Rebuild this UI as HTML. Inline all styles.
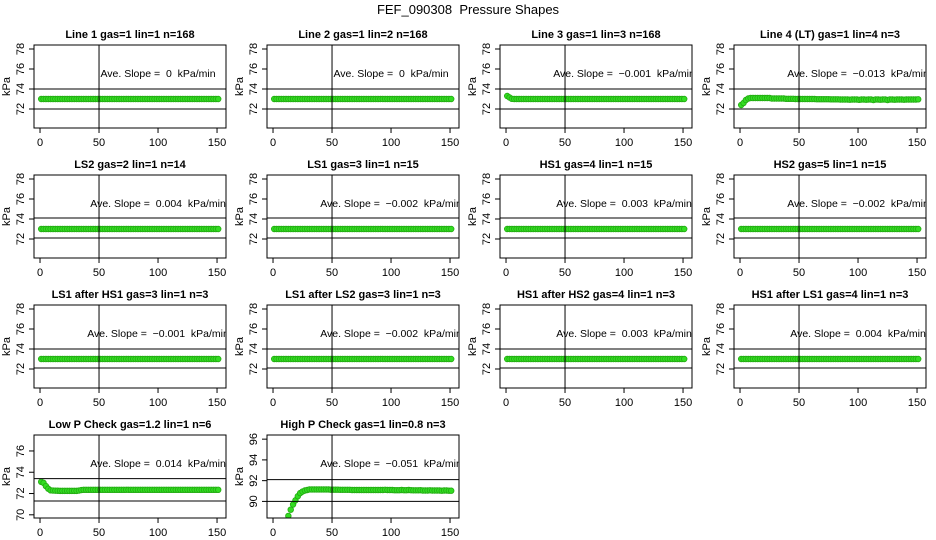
<!DOCTYPE html>
<html><head><meta charset="utf-8"><style>
html,body{margin:0;padding:0;background:#fff;overflow:hidden;width:936px;height:540px;}
svg{display:block;font-family:"Liberation Sans",sans-serif;}
text{white-space:pre;}
</style></head><body>
<svg id="c" width="936" height="540" viewBox="0 0 936 540">
<text x="468" y="14" text-anchor="middle" font-size="13">FEF_090308  Pressure Shapes</text>
</svg>
<script>
const times=[1,3,5,7,9,11,13,15,17,19,21,23,25,27,29,31,33,35,37,39,41,43,45,47,49,51,53,55,57,59,61,63,65,67,69,71,73,75,77,79,81,83,85,87,89,91,93,95,97,99,101,103,105,107,109,111,113,115,117,119,121,123,125,127,129,131,133,135,137,139,141,143,145,147,149,151];
const titles=["Line 1 gas=1 lin=1 n=168","Line 2 gas=1 lin=2 n=168","Line 3 gas=1 lin=3 n=168","Line 4 (LT) gas=1 lin=4 n=3","LS2 gas=2 lin=1 n=14","LS1 gas=3 lin=1 n=15","HS1 gas=4 lin=1 n=15","HS2 gas=5 lin=1 n=15","LS1 after HS1 gas=3 lin=1 n=3","LS1 after LS2 gas=3 lin=1 n=3","HS1 after HS2 gas=4 lin=1 n=3","HS1 after LS1 gas=4 lin=1 n=3","Low P Check gas=1.2 lin=1 n=6","High P Check gas=1 lin=0.8 n=3"];
const slopes=["0","0","\u22120.001","\u22120.013","0.004","\u22120.002","0.003","\u22120.002","\u22120.001","\u22120.002","0.003","0.004","0.014","\u22120.051"];
const yMin=[70.1,70.1,70.1,70.1,70.1,70.1,70.1,70.1,70.1,70.1,70.1,70.1,69.7,88.4];
const yMax=[78.4,78.4,78.4,78.4,78.4,78.4,78.4,78.4,78.4,78.4,78.4,78.4,77.5,96.4];
const yTicks=[[72,74,76,78],[72,74,76,78],[72,74,76,78],[72,74,76,78],[72,74,76,78],[72,74,76,78],[72,74,76,78],[72,74,76,78],[72,74,76,78],[72,74,76,78],[72,74,76,78],[72,74,76,78],[70,72,74,76],[90,92,94,96]];
const refLo=[72,72,72,72,72.1,72.1,72.1,72.1,72.1,72.1,72.1,72.1,71.3,90.0];
const refHi=[74,74,74,74,74.1,74.1,74.1,74.1,74.0,74.0,74.0,74.0,73.4,92.1];
const xTicks=[0,50,100,150];
const s1=[73,73,73,73,73,73,73,73,73,73,73,73,73,73,73,73,73,73,73,73,73,73,73,73,73,73,73,73,73,73,73,73,73,73,73,73,73,73,73,73,73,73,73,73,73,73,73,73,73,73,73,73,73,73,73,73,73,73,73,73,73,73,73,73,73,73,73,73,73,73,73,73,73,73,73,73];
const s2=s1.slice();
const s3=[73.3,73.15,73.02,73,73,73,73,73,73,73,73,73,73,73,73,73,73,73,73,73,73,73,73,73,73,73,73,73,73,73,73,73,73,73,73,73,73,73,73,73,73,73,73,73,73,73,73,73,73,73,73,73,73,73,73,73,73,73,73,73,73,73,73,73,73,73,73,73,73,73,73,73,73,73,73,73];
const s4=[72.4,72.6,72.9,73.05,73.1,73.1,73.1,73.1,73.1,73.1,73.1,73.1,73.1,73.05,73.05,73.05,73.05,73.05,73.05,73.02,73.02,73.02,73.02,73,73,73,73,73,73,73,73,73,72.98,72.98,72.98,72.98,72.98,72.98,72.97,72.97,72.97,72.97,72.95,72.95,72.95,72.95,72.93,72.95,72.95,72.95,72.92,72.95,72.95,72.93,72.95,72.95,72.9,72.95,72.95,72.93,72.95,72.95,72.9,72.95,72.95,72.93,72.95,72.95,72.95,72.93,72.95,72.95,72.95,72.95,72.95,72.97];
const s5=s1.slice(),s6=s1.slice(),s7=s1.slice(),s8=s1.slice(),s9=s1.slice(),s10=s1.slice(),s11=s1.slice(),s12=s1.slice();
const s13=[73.1,73.0,72.7,72.45,72.3,72.28,72.27,72.26,72.25,72.25,72.25,72.25,72.25,72.25,72.25,72.25,72.28,72.33,72.35,72.35,72.35,72.35,72.35,72.35,72.35,72.35,72.35,72.35,72.35,72.35,72.35,72.35,72.35,72.35,72.35,72.35,72.35,72.35,72.35,72.35,72.35,72.35,72.35,72.35,72.35,72.35,72.35,72.35,72.35,72.35,72.35,72.35,72.35,72.35,72.35,72.35,72.35,72.35,72.35,72.35,72.35,72.35,72.35,72.35,72.35,72.35,72.35,72.35,72.35,72.35,72.35,72.35,72.35,72.35,72.35,72.35];
const s14=[80,82,84,85.5,86.5,87.6,88.6,89.2,89.7,90.1,90.5,90.8,90.95,91.05,91.1,91.15,91.15,91.15,91.15,91.15,91.15,91.15,91.15,91.15,91.13,91.13,91.13,91.13,91.12,91.12,91.12,91.12,91.12,91.1,91.1,91.1,91.1,91.1,91.1,91.1,91.1,91.1,91.1,91.1,91.1,91.1,91.1,91.12,91.1,91.1,91.1,91.08,91.08,91.08,91.1,91.08,91.08,91.1,91.08,91.07,91.07,91.07,91.08,91.05,91.05,91.05,91.07,91.05,91.05,91.05,91.05,91.03,91.05,91.05,91.03,91.03];
const series=[s1,s2,s3,s4,s5,s6,s7,s8,s9,s10,s11,s12,s13,s14];
const NS="http://www.w3.org/2000/svg";
const svg=document.getElementById('c');
const colX=[34,267,500,734], rowY=[45,175,305,435], W=192, H=83;
const xMin=-5.1,xMax=157.6;
function mk(tag,attrs,parent){const e=document.createElementNS(NS,tag);for(const k in attrs)e.setAttribute(k,attrs[k]);(parent||svg).appendChild(e);return e;}
series.forEach((ys,i)=>{
  const bx=colX[i%4], by=rowY[Math.floor(i/4)];
  const g=mk('g',{});
  
  
  const sx=v=>bx+(v-xMin)/(xMax-xMin)*W;
  const sy=v=>by+H-(v-yMin[i])/(yMax[i]-yMin[i])*H;
  const cp=mk('clipPath',{id:'cp'+i},g);
  mk('rect',{x:bx,y:by,width:W,height:H},cp);
  const t=mk('text',{x:bx+W/2,y:by-7,'text-anchor':'middle','font-size':'11','font-weight':'bold'},g);
  t.textContent=titles[i];
  
  
  const lab=mk('text',{x:0,y:0,'text-anchor':'middle','font-size':'11',transform:`translate(${bx-24},${by+H/2}) rotate(-90)`},g);
  lab.textContent='kPa';
  
  
  yTicks[i].forEach(v=>{
    const y=sy(v);
    mk('line',{x1:bx-5,x2:bx,y1:y,y2:y,stroke:'#000'},g);
    const tl=mk('text',{x:0,y:0,'text-anchor':'middle','font-size':'11',transform:`translate(${bx-10},${y}) rotate(-90)`},g);
    tl.textContent=v;
    
    
  });
  xTicks.forEach(v=>{
    const x=sx(v);
    mk('line',{x1:x,x2:x,y1:by+H,y2:by+H+5,stroke:'#000'},g);
    const tl=mk('text',{x:x,y:by+H+18,'text-anchor':'middle','font-size':'11'},g);
    tl.textContent=v;
    
    
  });
  const pg=mk('g',{'clip-path':`url(#cp${i})`},g);
  
  
  ys.forEach((v,j)=>{
    if(v<yMin[i]-0.3||v>yMax[i]+0.3) return;
    const c=mk('circle',{cx:sx(times[j]),cy:sy(v),r:2.8,fill:'#33dd22',stroke:'#22aa11','stroke-width':0.8},pg);
    
    
  });
  mk('line',{x1:bx,x2:bx+W,y1:sy(refHi[i]),y2:sy(refHi[i]),stroke:'#000'},pg);
  mk('line',{x1:bx,x2:bx+W,y1:sy(refLo[i]),y2:sy(refLo[i]),stroke:'#000'},pg);
  mk('line',{x1:sx(50),x2:sx(50),y1:by,y2:by+H,stroke:'#000'},pg);
  const st=mk('text',{x:sx(100),y:by+32,'text-anchor':'middle','font-size':'10.5'},pg);
  st.textContent='Ave. Slope =  '+slopes[i]+'  kPa/min';
  
  
  const r=mk('rect',{x:bx,y:by,width:W,height:H,fill:'none',stroke:'#000'},g);
  
  
});
</script>
</body></html>
